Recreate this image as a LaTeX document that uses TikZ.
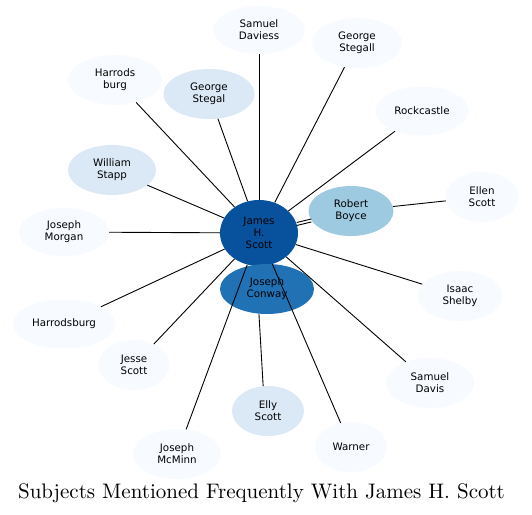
\documentclass[tikz,border=0pt]{standalone}
\usepackage{fontspec}
\newfontfamily\dv{DejaVu Sans}
\newfontfamily\lmten{lmroman10-regular.otf}
\usetikzlibrary{shapes.geometric}
\definecolor{bA}{HTML}{F7FBFF}
\definecolor{bB}{HTML}{DBE9F6}
\definecolor{bC}{HTML}{9ECAE1}
\definecolor{bD}{HTML}{2171B5}
\definecolor{bE}{HTML}{08519C}
\tikzset{
  nd/.style={ellipse, inner sep=0pt, align=center, font=\dv\fontsize{10.3}{12}\selectfont, text=black},
  ed/.style={draw=black, line width=0.9pt},
}
\begin{document}
\begin{tikzpicture}[x=1pt,y=-1pt]
\useasboundingbox (0,0) rectangle (532,514);
\node[nd, fill=bE, minimum width=78, minimum height=66] (james) at (259,233) {James\\H.\\Scott};
\node[nd, fill=bD, minimum width=94, minimum height=50] (conway) at (267,289) {Joseph\\Conway};
\node[nd, fill=bA, minimum width=92, minimum height=48] (daviess) at (259,30) {Samuel\\Daviess};
\node[nd, fill=bA, minimum width=90, minimum height=50] (stegall) at (357,43) {George\\Stegall};
\node[nd, fill=bA, minimum width=94, minimum height=50] (hburg) at (115,80) {Harrods\\burg};
\node[nd, fill=bB, minimum width=91, minimum height=50] (stegal) at (209,94) {George\\Stegal};
\node[nd, fill=bA, minimum width=93, minimum height=49] (rock) at (422,111) {Rockcastle};
\node[nd, fill=bB, minimum width=88, minimum height=50] (stapp) at (112,170) {William\\Stapp};
\node[nd, fill=bA, minimum width=73, minimum height=50] (ellen) at (482,197) {Ellen\\Scott};
\node[nd, fill=bC, minimum width=85, minimum height=50] (boyce) at (351,211) {Robert\\Boyce};
\node[nd, fill=bA, minimum width=90, minimum height=48] (morgan) at (64,232) {Joseph\\Morgan};
\node[nd, fill=bA, minimum width=85, minimum height=50] (shelby) at (460,296) {Isaac\\Shelby};
\node[nd, fill=bA, minimum width=103, minimum height=49] (hsburg) at (64,324) {Harrodsburg};
\node[nd, fill=bA, minimum width=71, minimum height=50] (jesse) at (134,365) {Jesse\\Scott};
\node[nd, fill=bA, minimum width=88, minimum height=50] (davis) at (430,383) {Samuel\\Davis};
\node[nd, fill=bB, minimum width=72, minimum height=50] (elly) at (268,411) {Elly\\Scott};
\node[nd, fill=bA, minimum width=88, minimum height=50] (mcminn) at (177,454) {Joseph\\McMinn};
\node[nd, fill=bA, minimum width=72, minimum height=50] (warner) at (351,447) {Warner};
\foreach \t in {daviess,stegall,hburg,stegal,rock,stapp,morgan,shelby,hsburg,jesse,davis,mcminn,warner}
  \draw[ed] (james) -- (\t);
\draw[ed] (conway.-108) -- (elly.101);
\draw[ed] (boyce) -- (ellen);
\draw[ed, transform canvas={yshift=-1.5pt}] (james) -- (boyce);
\draw[ed, transform canvas={yshift=1.5pt}] (james) -- (boyce);
\node[font=\lmten\fontsize{21}{25}\selectfont, anchor=base] (title) at (261.5,498) {Subjects Mentioned Frequently With James H. Scott};
\end{tikzpicture}
\end{document}
